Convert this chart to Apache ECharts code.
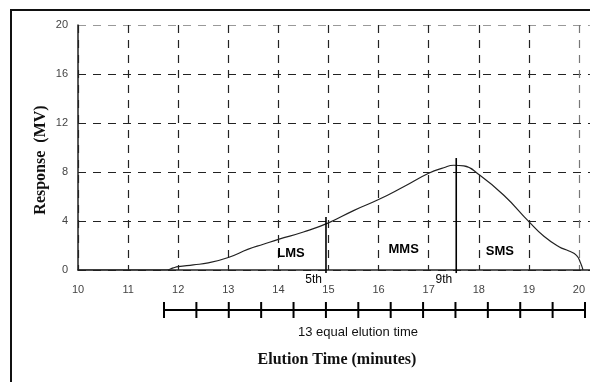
<!DOCTYPE html>
<html>
<head>
<meta charset="utf-8">
<script src="https://cdn.jsdelivr.net/npm/echarts@6/dist/echarts.min.js"></script>
<style>html,body{margin:0;padding:0;background:#fff;}#c{width:590px;height:382px;}</style>
</head>
<body>
<div id="c"></div>
<script>
// Elution curve (minutes, response MV)
var timeValues = [10, 11.5, 11.77, 11.9, 12.0, 12.3, 12.6, 13.0, 13.4, 13.7, 14.0, 14.5, 15.0, 15.5, 16.0, 16.5, 17.0, 17.3, 17.5, 17.7, 18.0, 18.5, 19.0, 19.3, 19.6, 19.8, 19.95, 20.03, 20.08];
var responseValues = [0, 0, 0, 0.17, 0.27, 0.42, 0.58, 1.02, 1.7, 2.1, 2.5, 3.1, 3.85, 4.85, 5.75, 6.8, 7.9, 8.35, 8.55, 8.5, 7.8, 6.1, 3.95, 2.75, 1.9, 1.55, 1.2, 0.6, 0];
// Cut markers
var cutNames = ['5th', '9th'];
var cutTimes = [14.95, 17.55];
var cutTops = [4.33, 9.14];
// Fraction labels
var fractionNames = ['LMS', 'MMS', 'SMS'];
var fractionX = [14.25, 16.5, 18.42];
var fractionY = [1.39, 1.7, 1.55];
// Equal elution time scale: 13 intervals
var segmentBounds = [0, 1, 2, 3, 4, 5, 6, 7, 8, 9, 10, 11, 12, 13];
var yTicks = [0, 4, 8, 12, 16, 20];

var chart = echarts.init(document.getElementById('c'), null, {renderer: 'canvas'});
var curve = timeValues.map(function (t, i) { return [t, responseValues[i]]; });
var series = [{
  type: 'line', xAxisIndex: 0, yAxisIndex: 0, data: curve, showSymbol: false,
  smooth: 0.5, lineStyle: {color: '#222', width: 1.2}, z: 5
}];
cutTimes.forEach(function (t, i) {
  series.push({
    type: 'line', xAxisIndex: 0, yAxisIndex: 0, clip: false, showSymbol: false,
    data: [[t, -0.25], [t, cutTops[i]]], lineStyle: {color: '#000', width: 1.6}, z: 6
  });
});
series.push({
  type: 'scatter', xAxisIndex: 0, yAxisIndex: 0, clip: false, symbolSize: 0,
  itemStyle: {opacity: 1},
  data: cutNames.map(function (n, i) { return {value: [cutTimes[i], -0.3], name: n}; }),
  label: {show: true, position: 'left', distance: 0, formatter: '{b}', color: '#000', fontSize: 12,
    fontFamily: 'Liberation Sans, Arial', verticalAlign: 'top', offset: [-4, 0]}
});
series.push({
  type: 'scatter', xAxisIndex: 0, yAxisIndex: 0, symbolSize: 0,
  itemStyle: {opacity: 1},
  data: fractionNames.map(function (n, i) { return {value: [fractionX[i], fractionY[i]], name: n}; }),
  label: {show: true, position: 'inside', formatter: '{b}', color: '#000', fontSize: 13, fontWeight: 'bold',
    fontFamily: 'Liberation Sans, Arial', textBorderWidth: 0}
});
// equal time scale bar
series.push({
  type: 'line', xAxisIndex: 1, yAxisIndex: 1, showSymbol: false, clip: false,
  data: [[segmentBounds[0], 0], [segmentBounds[segmentBounds.length - 1], 0]],
  lineStyle: {color: '#000', width: 2}
});
series.push({
  type: 'scatter', xAxisIndex: 1, yAxisIndex: 1, clip: false, symbol: 'rect', symbolSize: [2, 16],
  data: segmentBounds.map(function (b) { return [b, 0]; }), itemStyle: {color: '#000', opacity: 1}
});

chart.setOption({
  animation: false,
  backgroundColor: '#fff',
  grid: [
    {left: 78, top: 25, right: 0, bottom: 112},
    {left: 164, top: 302, width: 421, height: 16}
  ],
  xAxis: [{
    type: 'value', gridIndex: 0, min: 10, max: 20.22, interval: 1,
    axisLine: {show: true, onZero: false, lineStyle: {color: '#222', width: 1.5}},
    axisTick: {show: false},
    axisLabel: {color: '#444', fontSize: 11, fontFamily: 'Liberation Sans, Arial', margin: 14, showMaxLabel: false,
      formatter: function (v) { return Number.isInteger(v) ? String(v) : ''; }},
    splitLine: {show: true, lineStyle: {type: [8, 7], color: ['#222','#222','#222','#222','#222','#222','#222','#222','#222','#222','#777','#fff'], width: 1.2}}
  }, {
    type: 'value', gridIndex: 1, min: 0, max: 13, show: false
  }],
  yAxis: [{
    type: 'value', gridIndex: 0, min: 0, max: 20, interval: 4,
    axisLine: {show: true, lineStyle: {color: '#222', width: 1.5}},
    axisTick: {show: false},
    axisLabel: {color: '#444', fontSize: 11, fontFamily: 'Liberation Sans, Arial', margin: 10,
      customValues: yTicks},
    splitLine: {show: true, lineStyle: {type: [8, 7], color: ['#222','#222','#222','#222','#222','#999'], width: 1.2}}
  }, {
    type: 'value', gridIndex: 1, min: -1, max: 1, show: false
  }],
  graphic: [
    {type: 'rect', shape: {x: 11, y: 10, width: 700, height: 500}, style: {fill: null, stroke: '#111', lineWidth: 2}, silent: true},
    {type: 'text', x: 358, y: 332, style: {text: '13 equal elution time', fill: '#111', font: '13px "Liberation Sans", Arial', textAlign: 'center', textVerticalAlign: 'middle'}},
    {type: 'text', x: 337, y: 360, style: {text: 'Elution Time (minutes)', fill: '#111', font: 'bold 16px "Liberation Serif", "Times New Roman"', textAlign: 'center', textVerticalAlign: 'middle'}},
    {type: 'text', x: 41, y: 160, rotation: Math.PI / 2, style: {text: 'Response  (MV)', fill: '#111', font: 'bold 16px "Liberation Serif", "Times New Roman"', textAlign: 'center', textVerticalAlign: 'middle'}}
  ],
  series: series
});
</script>
</body>
</html>
